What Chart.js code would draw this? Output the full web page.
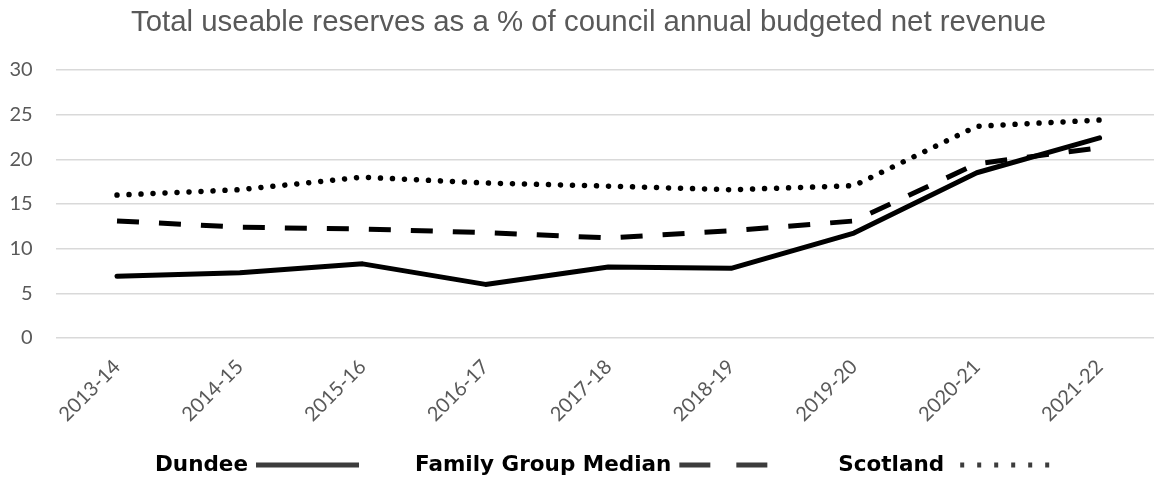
<!DOCTYPE html>
<html>
<head>
<meta charset="utf-8">
<title>Reservas utilizáveis</title>
<script src="https://cdn.jsdelivr.net/npm/chart.js@4"></script>
<style>
  html, body { margin: 0; padding: 0; background: #fff; overflow: hidden; }
  #area-grafico { width: 1161px; height: 479px; }
</style>
</head>
<body>
<div id="area-grafico"><canvas id="grafico-reservas"></canvas></div>
<script>
// Anos financeiros (eixo X)
const anos = ['2013-14', '2014-15', '2015-16', '2016-17', '2017-18', '2018-19', '2019-20', '2020-21', '2021-22'];

// Reservas utilizáveis em % da receita líquida orçada
const dundee = [6.9, 7.3, 8.3, 6.0, 7.95, 7.8, 11.75, 18.5, 22.4];
const medianaGrupo = [13.1, 12.4, 12.2, 11.8, 11.2, 12.0, 13.1, 19.5, 21.3];
const escocia = [16.0, 16.6, 18.0, 17.35, 17.0, 16.6, 17.05, 23.7, 24.4];

// Marcas do eixo Y
const ticksY = [0, 5, 10, 15, 20, 25, 30];

const nomesSeries = ['Dundee', 'Family Group Median', 'Scotland'];
const titulo = 'Total useable reserves as a % of council annual budgeted net revenue';

// Título e legenda desenhados à mão (legenda: texto primeiro, amostra da linha depois)
const tituloELegenda = {
    id: 'tituloELegenda',
    afterDraw(chart) {
        const ctx = chart.ctx;
        ctx.save();

        // título
        ctx.font = '29.4px "Liberation Sans"';
        ctx.fillStyle = '#595959';
        ctx.textAlign = 'center';
        ctx.textBaseline = 'alphabetic';
        ctx.fillText(titulo, 588.5, 31);

        // legenda
        const y = 465;
        const amostra = 103, espaco = 8, entre = 56;
        ctx.font = 'bold 21.5px "DejaVu Sans"';
        const itens = chart.data.datasets.map(ds => ({ ds, largura: ctx.measureText(ds.label).width }));
        let x = 155;
        itens.forEach(it => {
            ctx.fillStyle = '#000';
            ctx.textAlign = 'left';
            ctx.textBaseline = 'middle';
            ctx.fillText(it.ds.label, x, y);
            x += it.largura + espaco;
            ctx.strokeStyle = '#3c3c3c';
            ctx.lineWidth = 5;
            ctx.lineCap = 'butt';
            ctx.setLineDash(it.ds.tracoLegenda || []);
            ctx.lineDashOffset = it.ds.deslocLegenda || 0;
            ctx.beginPath();
            ctx.moveTo(x, y);
            ctx.lineTo(x + amostra, y);
            ctx.stroke();
            x += amostra + entre;
        });
        ctx.restore();
    }
};

const ctx = document.getElementById('grafico-reservas').getContext('2d');

new Chart(ctx, {
    type: 'line',
    data: {
        labels: anos,
        datasets: [{
            label: nomesSeries[0],
            data: dundee,
            borderColor: '#000',
            borderWidth: 5,
            borderJoinStyle: 'round',
            borderCapStyle: 'round',
            pointRadius: 0
        }, {
            label: nomesSeries[1],
            data: medianaGrupo,
            borderColor: '#000',
            borderWidth: 5,
            borderDash: [22, 20],
            borderCapStyle: 'butt',
            pointRadius: 0,
            tracoLegenda: [31, 26]
        }, {
            label: nomesSeries[2],
            data: escocia,
            borderColor: '#000',
            borderWidth: 5.5,
            borderDash: [0.01, 12],
            borderCapStyle: 'round',
            pointRadius: 0,
            tracoLegenda: [4, 13],
            deslocLegenda: -8
        }]
    },
    options: {
        responsive: true,
        maintainAspectRatio: false,
        animation: false,
        devicePixelRatio: 1,
        layout: { padding: { left: 0, right: 0, top: 70, bottom: 0 } },
        plugins: {
            legend: { display: false },
            tooltip: { enabled: false },
            title: { display: false }
        },
        scales: {
            x: {
                offset: true,
                grid: { display: false, drawTicks: false },
                border: { display: false },
                ticks: {
                    color: '#595959',
                    font: { family: 'Lato', size: 20 },
                    minRotation: 45,
                    maxRotation: 45,
                    padding: 17
                },
                afterFit(escala) { escala.height = 141; }
            },
            y: {
                min: 0,
                max: 30,
                afterBuildTicks(escala) { escala.ticks = ticksY.map(v => ({ value: v })); },
                grid: { color: '#d9d9d9', lineWidth: 1.5, drawTicks: false },
                border: { display: false },
                ticks: {
                    color: '#595959',
                    font: { family: 'Lato', size: 20 },
                    padding: 23
                },
                afterFit(escala) { escala.width = 55.6; }
            }
        }
    },
    plugins: [tituloELegenda]
});
</script>
</body>
</html>
